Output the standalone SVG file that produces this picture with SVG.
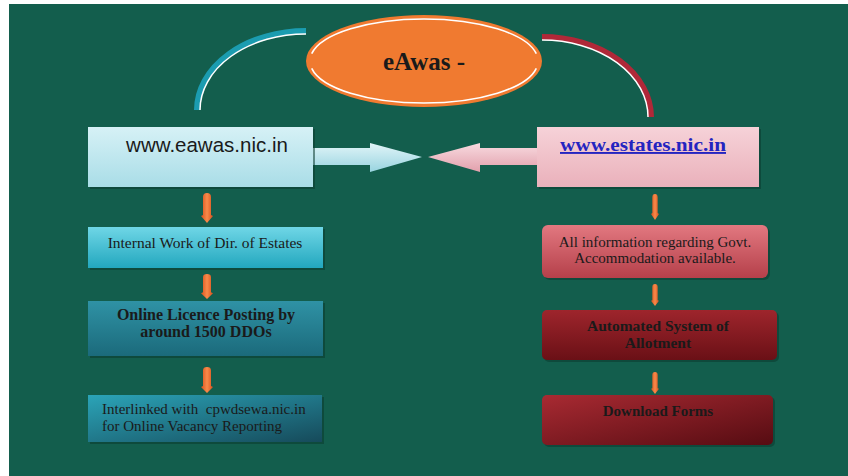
<svg xmlns="http://www.w3.org/2000/svg" width="848" height="476" viewBox="0 0 848 476">
<defs>
<style>
.serif{font-family:"Liberation Serif","DejaVu Serif",serif;fill:#1a1a1a}
.b{font-weight:bold}
.sans{font-family:"Liberation Sans","Open Sans",sans-serif;fill:#1a1a1a}
.shadow{fill:#0b3a30;opacity:0.55}
.sm{fill:url(#gOr)}
</style>
<linearGradient id="gTopL" x1="0" y1="0" x2="0" y2="1"><stop offset="0" stop-color="#d6f1f6"/><stop offset="1" stop-color="#a9dde7"/></linearGradient>
<linearGradient id="gTopR" x1="0" y1="0" x2="0" y2="1"><stop offset="0" stop-color="#f6d2d8"/><stop offset="1" stop-color="#eab1bb"/></linearGradient>
<linearGradient id="gL1" x1="0" y1="0" x2="0" y2="1"><stop offset="0" stop-color="#6fd6e6"/><stop offset="1" stop-color="#22a7be"/></linearGradient>
<linearGradient id="gL2" x1="0" y1="0" x2="0" y2="1"><stop offset="0" stop-color="#2f92a5"/><stop offset="1" stop-color="#1b6a7b"/></linearGradient>
<linearGradient id="gL3" x1="0" y1="0" x2="1" y2="1"><stop offset="0" stop-color="#2ba4b8"/><stop offset="1" stop-color="#164a5a"/></linearGradient>
<linearGradient id="gR1" x1="0" y1="0" x2="0" y2="1"><stop offset="0" stop-color="#e27880"/><stop offset="1" stop-color="#b5404a"/></linearGradient>
<linearGradient id="gR2" x1="0" y1="0" x2="0" y2="1"><stop offset="0" stop-color="#9e252c"/><stop offset="1" stop-color="#6a1016"/></linearGradient>
<linearGradient id="gR3" x1="0" y1="0" x2="1" y2="1"><stop offset="0" stop-color="#a82a32"/><stop offset="1" stop-color="#560c12"/></linearGradient>
<linearGradient id="gArL" x1="0" y1="0" x2="0" y2="1"><stop offset="0" stop-color="#e2f5f8"/><stop offset="1" stop-color="#98d4e0"/></linearGradient>
<linearGradient id="gArR" x1="0" y1="0" x2="0" y2="1"><stop offset="0" stop-color="#f8dbe0"/><stop offset="1" stop-color="#e2a0ac"/></linearGradient>
<linearGradient id="gOr" x1="0" y1="0" x2="1" y2="0"><stop offset="0" stop-color="#d8501c"/><stop offset="0.5" stop-color="#f88a4a"/><stop offset="1" stop-color="#d8501c"/></linearGradient>
<symbol id="dbl" viewBox="0 0 12 30" preserveAspectRatio="none">
<path d="M2,4 Q2,0 6,0 Q10,0 10,4 L10,22 L12,23 L6,30 L0,23 L2,22 Z"/>
</symbol>
</defs>
<rect x="0" y="0" width="848" height="476" fill="#ffffff"/>
<rect x="9" y="4" width="839" height="472" fill="#135e4d"/>

<g id="connectors">
<path d="M197,110 A109 79 0 0 1 306 31" fill="none" stroke="#1b9cb0" stroke-width="6"/>
<path d="M200,110 A106 76 0 0 1 306 34" fill="none" stroke="#ffffff" stroke-width="1.5"/>
<path d="M542,37 A109 80 0 0 1 651 117" fill="none" stroke="#b02838" stroke-width="6"/>
<path d="M542,40 A106 77 0 0 1 648 117" fill="none" stroke="#ffffff" stroke-width="1.5"/>
<polygon points="313,148 370,148 370,143 422,157 370,172 370,165 313,165" fill="url(#gArL)"/>
<polygon points="537,148 480,148 480,143 428,157 480,172 480,165 537,165" fill="url(#gArR)"/>
<g class="sm">
<use href="#dbl" x="201" y="193" width="12" height="30"/>
<use href="#dbl" x="201" y="274" width="12" height="25"/>
<use href="#dbl" x="201" y="367" width="12" height="26"/>
<use href="#dbl" x="651" y="194" width="8" height="26"/>
<use href="#dbl" x="651" y="284" width="8" height="22"/>
<use href="#dbl" x="651" y="372" width="8" height="22"/>
</g>
</g>

<g id="title">
<ellipse cx="424" cy="61" rx="118" ry="46" fill="#f07a30"/>
<path d="M311.7,53.7 A114 42 0 0 1 536.3 53.7" fill="none" stroke="#ffffff" stroke-width="1.6"/>
<path d="M311.7,68.3 A114 42 0 0 0 536.3 68.3" fill="none" stroke="#ffffff" stroke-width="1.6"/>
<text x="424" y="70" text-anchor="middle" class="serif b" font-size="25">eAwas -</text>
</g>

<g id="eawas">
<rect x="90" y="129" width="225" height="60" class="shadow"/>
<rect x="88" y="127" width="225" height="60" fill="url(#gTopL)"/>
<text x="207" y="152" text-anchor="middle" class="sans" font-size="20.5">www.eawas.nic.in</text>
</g>

<g id="estates">
<rect x="539" y="129" width="222" height="60" class="shadow"/>
<rect x="537" y="127" width="222" height="60" fill="url(#gTopR)"/>
<text x="643" y="151" text-anchor="middle" class="serif b" font-size="19" style="fill:#2424c0" text-decoration="underline" textLength="166" lengthAdjust="spacingAndGlyphs">www.estates.nic.in</text>
</g>

<g id="internal">
<rect x="90" y="229" width="235" height="41" class="shadow"/>
<rect x="88" y="227" width="235" height="41" fill="url(#gL1)"/>
<text x="205" y="248" text-anchor="middle" class="serif" font-size="15.5">Internal Work of Dir. of Estates</text>
</g>

<g id="licence">
<rect x="90" y="303" width="235" height="55" class="shadow"/>
<rect x="88" y="301" width="235" height="55" fill="url(#gL2)"/>
<text x="206" y="320" text-anchor="middle" class="serif b" font-size="16">Online Licence Posting by</text>
<text x="206" y="337" text-anchor="middle" class="serif b" font-size="16">around 1500 DDOs</text>
</g>

<g id="interlinked">
<rect x="90" y="397" width="234" height="47" class="shadow"/>
<rect x="88" y="395" width="234" height="47" fill="url(#gL3)"/>
<text x="102" y="414" class="serif" font-size="15" xml:space="preserve" style="white-space:pre">Interlinked with  cpwdsewa.nic.in</text>
<text x="102" y="431" class="serif" font-size="15">for Online Vacancy Reporting</text>
</g>

<g id="info">
<rect x="544" y="227" width="226" height="53" rx="6" class="shadow"/>
<rect x="542" y="225" width="226" height="53" rx="6" fill="url(#gR1)"/>
<text x="655" y="247" text-anchor="middle" class="serif" font-size="15">All information regarding Govt.</text>
<text x="655" y="263" text-anchor="middle" class="serif" font-size="15">Accommodation available.</text>
</g>

<g id="automated">
<rect x="544" y="312" width="235" height="50" rx="5" class="shadow"/>
<rect x="542" y="310" width="235" height="50" rx="5" fill="url(#gR2)"/>
<text x="658" y="331" text-anchor="middle" class="serif b" font-size="15.5">Automated System of</text>
<text x="658" y="348" text-anchor="middle" class="serif b" font-size="15.5">Allotment</text>
</g>

<g id="download">
<rect x="544" y="397" width="231" height="50" rx="5" class="shadow"/>
<rect x="542" y="395" width="231" height="50" rx="5" fill="url(#gR3)"/>
<text x="658" y="416" text-anchor="middle" class="serif b" font-size="15">Download Forms</text>
</g>
</svg>
